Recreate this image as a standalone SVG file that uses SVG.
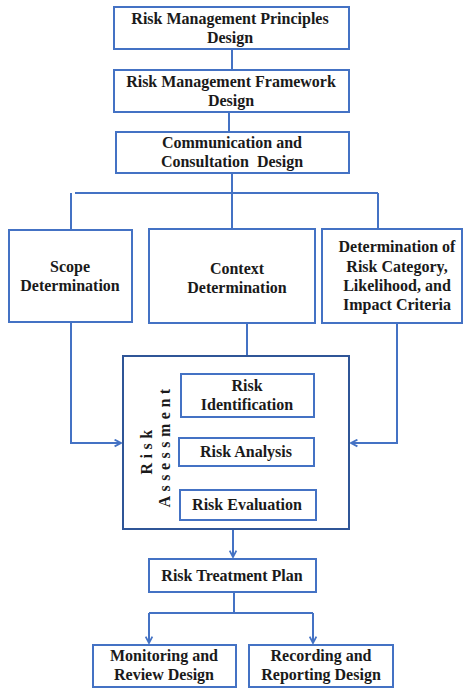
<svg xmlns="http://www.w3.org/2000/svg" width="467" height="689" viewBox="0 0 467 689">
<defs>
<style>
.box{fill:#fff;stroke:#4472C4;stroke-width:2}
.outer{fill:#fff;stroke:#2F5597;stroke-width:2}
.t{font-family:"Liberation Serif","Times New Roman",serif;font-weight:bold;font-size:16px;fill:#1a1a1a;text-anchor:middle}
.c{fill:none;stroke:#4472C4;stroke-width:2}
</style>
<marker id="ah" viewBox="0 0 10 10" refX="9" refY="5" markerWidth="8" markerHeight="9" orient="auto" markerUnits="userSpaceOnUse">
<path d="M1,0.8 L9,5 L1,9.2" fill="none" stroke="#4472C4" stroke-width="2.2"/>
</marker>
</defs>
<rect width="467" height="689" fill="#fff"/>
<g id="connectors">
<path class="c" d="M232,49 V70"/>
<path class="c" d="M229,112 V132"/>
<path class="c" d="M232,173 V193"/>
<path class="c" d="M75,193 H378"/>
<path class="c" d="M71,193 V230"/>
<path class="c" d="M232,193 V229"/>
<path class="c" d="M378,193 V229"/>
<path class="c" d="M71,322 V443 H121" marker-end="url(#ah)"/>
<path class="c" d="M397,323 V443 H351" marker-end="url(#ah)"/>
<path class="c" d="M247,323 V372" marker-end="url(#ah)"/>
<path class="c" d="M247,417 V436" marker-end="url(#ah)"/>
<path class="c" d="M236,466 V488" marker-end="url(#ah)"/>
<path class="c" d="M233,529 V557" marker-end="url(#ah)"/>
<path class="c" d="M234,592 V613"/>
<path class="c" d="M149,613 H313"/>
<path class="c" d="M149,613 V643" marker-end="url(#ah)"/>
<path class="c" d="M313,613 V643" marker-end="url(#ah)"/>
</g>
<g id="principles">
<rect class="box" x="114" y="7" width="235" height="42"/>
<text class="t" x="230" y="24">Risk Management Principles</text>
<text class="t" x="230" y="43">Design</text>
</g>
<g id="framework">
<rect class="box" x="114" y="70" width="235" height="42"/>
<text class="t" x="231" y="87">Risk Management Framework</text>
<text class="t" x="231" y="106">Design</text>
</g>
<g id="communication">
<rect class="box" x="116" y="132" width="233" height="41"/>
<text class="t" x="232" y="148">Communication and</text>
<text class="t" x="232" y="167" xml:space="preserve">Consultation  Design</text>
</g>
<g id="scope">
<rect class="box" x="9" y="230" width="123" height="92"/>
<text class="t" x="70" y="272">Scope</text>
<text class="t" x="70" y="291">Determination</text>
</g>
<g id="context">
<rect class="box" x="149" y="229" width="166" height="94"/>
<text class="t" x="237" y="274">Context</text>
<text class="t" x="237" y="293">Determination</text>
</g>
<g id="criteria">
<rect class="box" x="322" y="229" width="140" height="94"/>
<text class="t" x="397" y="252">Determination of</text>
<text class="t" x="397" y="272">Risk Category,</text>
<text class="t" x="397" y="291">Likelihood, and</text>
<text class="t" x="397" y="310">Impact Criteria</text>
</g>
<g id="assessment">
<rect class="outer" x="123" y="356" width="226" height="173"/>
<text class="t" transform="translate(152,450) rotate(-90)" letter-spacing="4.5">Risk</text>
<text class="t" transform="translate(170,446) rotate(-90)" letter-spacing="4.5">Assessment</text>
</g>
<g id="identification">
<rect class="box" x="181" y="374" width="133" height="43"/>
<text class="t" x="247" y="391">Risk</text>
<text class="t" x="247" y="410">Identification</text>
</g>
<g id="analysis">
<rect class="box" x="179" y="438" width="135" height="28"/>
<text class="t" x="246" y="457">Risk Analysis</text>
</g>
<g id="evaluation">
<rect class="box" x="180" y="490" width="136" height="30"/>
<text class="t" x="247" y="510">Risk Evaluation</text>
</g>
<g id="treatment">
<rect class="box" x="149" y="559" width="167" height="33"/>
<text class="t" x="232" y="581">Risk Treatment Plan</text>
</g>
<g id="monitoring">
<rect class="box" x="93" y="645" width="143" height="42"/>
<text class="t" x="164" y="661">Monitoring and</text>
<text class="t" x="164" y="680">Review Design</text>
</g>
<g id="recording">
<rect class="box" x="249" y="645" width="144" height="42"/>
<text class="t" x="321" y="661">Recording and</text>
<text class="t" x="321" y="680">Reporting Design</text>
</g>
</svg>
